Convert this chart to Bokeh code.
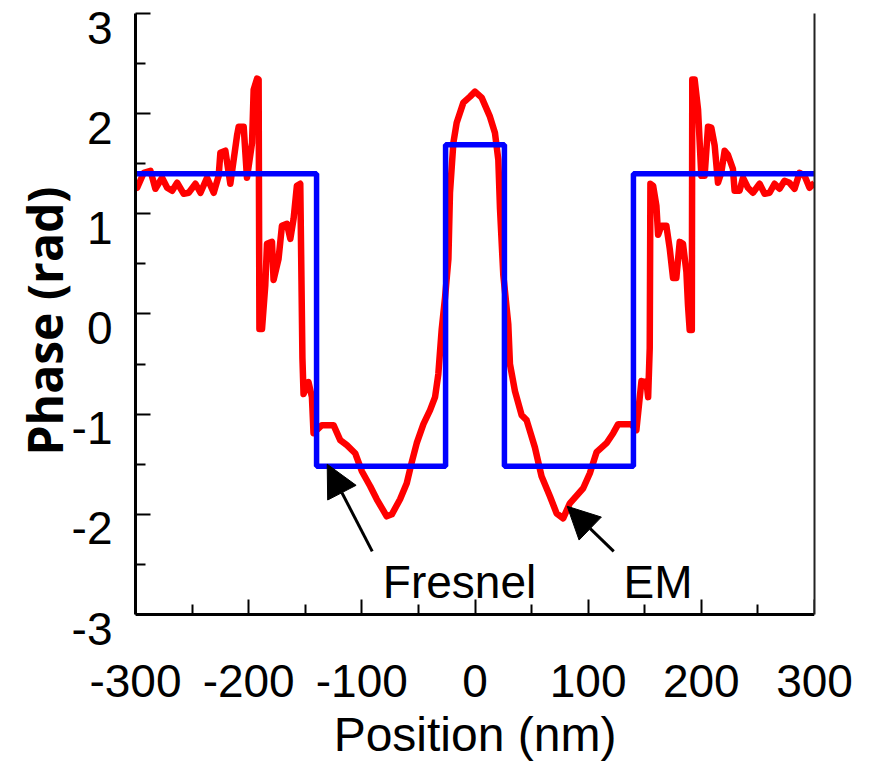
from bokeh.plotting import figure
from bokeh.models import (Range1d, LinearAxis, FixedTicker, Label, Arrow,
                          NormalHead, CustomLabelingPolicy)
from bokeh.embed import file_html
from bokeh.resources import INLINE

# ---- data ----
em_x = [-300, -298.5, -292.7, -286.8, -282.4, -276.5, -272, -267.6, -263.2, -257.4, -253,
        -247, -242.6, -236.8, -230.9, -226.5, -225, -220.6, -216.2, -210.3, -208.8, -204.4,
        -201.5, -197, -195.6, -192.6, -191.2, -190.5, -188.2, -185.3, -183.8, -179.4, -178,
        -173.6, -170.6, -166.2, -163.2, -160.3, -157.4, -154.4, -152.5, -151.5, -147.1,
        -144.1, -142.7, -135.3, -125, -119.1, -113.2, -105.9, -100, -92.6, -86.8, -78,
        -73.5, -66.2, -60.3, -55.9, -51.5, -45.6, -39.7, -35.3, -32.4, -29.4, -26.5, -23.5,
        -22.1, -19.1, -16.2, -10.3, -4.4, 0, 5.9, 13.2, 17.6, 20.6, 22.1, 25, 29.4, 30.9,
        35.3, 41.2, 45.6, 52.9, 58.8, 66.2, 72.1, 77.9, 83.8, 95.6, 101.5, 107.4, 116.2,
        122.1, 126.5, 138.2, 142.6, 145.6, 147.1, 151.5, 153, 154.4, 155, 157.4, 160.3,
        161.8, 164.7, 169.1, 172.1, 175, 177.9, 180.9, 183.8, 186.8, 188.2, 189.7, 191.6,
        192.0, 194.1, 197.1, 200, 202.9, 205.9, 208.8, 211.8, 214.7, 217.6, 220.6, 223.5,
        227.9, 229.4, 233.8, 236.8, 241.2, 245.6, 251.5, 255.9, 260.3, 264.7, 269.1, 273.5,
        277.9, 282.4, 286.8, 291.2, 295.6, 300]
em_y = [1.30, 1.26, 1.41, 1.43, 1.25, 1.36, 1.26, 1.23, 1.31, 1.20, 1.21,
        1.30, 1.21, 1.36, 1.21, 1.38, 1.61, 1.63, 1.30, 1.78, 1.87, 1.87,
        1.36, 1.71, 2.24, 2.35, 2.34, -0.15, -0.15, 0.29, 0.70, 0.72, 0.34,
        0.55, 0.88, 0.90, 0.75, 0.95, 1.28, 1.30, -0.44, -0.80, -0.68,
        -0.83, -1.19, -1.11, -1.11, -1.26, -1.31, -1.39, -1.57, -1.72, -1.85, -2.02,
        -2.00, -1.85, -1.69, -1.48, -1.29, -1.10, -0.96, -0.83, -0.60, -0.15, 0.16, 0.55,
        1.21, 1.71, 1.91, 2.11, 2.17, 2.22, 2.16, 1.97, 1.81, 1.54, 1.05, 0.39, -0.10, -0.50,
        -0.77, -1.01, -1.06, -1.33, -1.62, -1.82, -1.99, -2.04, -1.89, -1.74, -1.59, -1.38, -1.29,
        -1.19, -1.10, -1.10, -1.16, -0.83, -0.67, -0.68, -0.83, -0.34, 1.30, 1.28, 1.08,
        0.79, 0.88, 0.88, 0.65, 0.36, 0.36, 0.72, 0.70, 0.42, 0.09, -0.16, -0.16,
        2.34, 2.34, 2.04, 1.38, 1.38, 1.87, 1.86, 1.68, 1.31, 1.41, 1.63, 1.59,
        1.45, 1.23, 1.23, 1.36, 1.26, 1.21, 1.30, 1.20, 1.21, 1.30, 1.25, 1.33,
        1.31, 1.25, 1.41, 1.38, 1.26, 1.31]

fresnel_x = [-300, -140, -140, -26, -26, 26, 26, 140, 140, 300]
fresnel_y = [1.40, 1.40, -1.52, -1.52, 1.69, 1.69, -1.52, -1.52, 1.40, 1.40]

x_ticks = [-300, -200, -100, 0, 100, 200, 300]
x_minor = [-250, -150, -50, 50, 150, 250]
x_labels = ["-300", "-200", "-100", "0", "100", "200", "300"]
y_ticks = [-3, -2, -1, 0, 1, 2, 3]
y_minor = [-2.5, -1.5, -0.5, 0.5, 1.5, 2.5]
y_labels = ["-3", "-2", "-1", "0", "1", "2", "3"]

FONT = "Liberation Sans"
BOLD_FONT = "Open Sans"
OFF = 0.14   # y tick labels hang this far below their ticks in the reference

HIDE = "for (const i of indices) indices.unset(i); return indices"

p = figure(width=873, height=763, output_backend="svg", toolbar_location=None,
           x_range=Range1d(x_ticks[0], x_ticks[-1]),
           y_range=Range1d(y_ticks[0] - OFF, y_ticks[-1]),
           min_border_left=135, min_border_right=59, min_border_top=13,
           min_border_bottom=134)
p.outline_line_color = None
p.xgrid.visible = False
p.ygrid.visible = False
p.background_fill_color = "white"
p.border_fill_color = "white"


def ticks_only(ax, ticker):
    ax.ticker = ticker
    ax.axis_line_width = 3
    ax.axis_line_color = "black"
    ax.major_tick_in = 15
    ax.major_tick_out = 0
    ax.minor_tick_in = 10
    ax.minor_tick_out = 0
    ax.major_tick_line_width = 2
    ax.minor_tick_line_width = 2
    ax.major_tick_line_color = "black"
    ax.minor_tick_line_color = "black"
    ax.major_label_text_font_size = "0px"
    ax.major_label_policy = CustomLabelingPolicy(code=HIDE)
    ax.major_label_standoff = 0


def labels_only(ax, ticks, labels, standoff):
    ax.ticker = FixedTicker(ticks=ticks)
    ax.major_label_overrides = dict(zip(ticks, labels))
    ax.axis_line_color = None
    ax.major_tick_line_color = None
    ax.minor_tick_line_color = None
    ax.major_label_text_font = FONT
    ax.major_label_text_font_size = "46px"
    ax.major_label_text_color = "black"
    ax.major_label_standoff = standoff


# x axis line + ticks, sitting at y = -3
xa = p.xaxis[0]
xa.fixed_location = y_ticks[0]
ticks_only(xa, FixedTicker(ticks=x_ticks, minor_ticks=x_minor))

# x labels + title
xl = LinearAxis()
labels_only(xl, x_ticks, x_labels, 30)
xl.axis_label = "Position (nm)"
xl.axis_label_text_font = FONT
xl.axis_label_text_font_size = "48px"
xl.axis_label_text_font_style = "normal"
xl.axis_label_text_color = "black"
xl.axis_label_standoff = 8
p.add_layout(xl, "below")

# y axis line + ticks
ya = p.yaxis[0]
ya.bounds = (y_ticks[0], y_ticks[-1])
ticks_only(ya, FixedTicker(ticks=y_ticks, minor_ticks=y_minor))

# y labels + title
p.extra_y_ranges = {"lab": Range1d(y_ticks[0], y_ticks[-1] + OFF)}
la = LinearAxis(y_range_name="lab")
labels_only(la, y_ticks, y_labels, 17)
la.axis_label = "Phase (rad)"
la.axis_label_text_font = BOLD_FONT
la.axis_label_text_font_size = "48px"
la.axis_label_text_font_style = "bold"
la.axis_label_text_color = "black"
la.axis_label_standoff = -8
p.add_layout(la, "left")

# right frame line
ra = LinearAxis(bounds=(y_ticks[0], y_ticks[-1]))
ticks_only(ra, FixedTicker(ticks=[]))
ra.axis_line_color = "#222222"
ra.axis_line_width = 2
p.add_layout(ra, "right")

# curves
p.line(em_x, em_y, line_color="#FF0000", line_width=6.5, line_join="round")
p.line(fresnel_x, fresnel_y, line_color="#0000FF", line_width=5.5)

# annotations
p.add_layout(Arrow(end=NormalHead(size=32, fill_color="black", line_color="black"),
                   x_start=-90.8, y_start=-2.37, x_end=-130.6, y_end=-1.50,
                   line_width=3, line_color="black"))
p.add_layout(Arrow(end=NormalHead(size=32, fill_color="black", line_color="black"),
                   x_start=122.6, y_start=-2.37, x_end=81.5, y_end=-1.92,
                   line_width=3, line_color="black"))
p.add_layout(Label(x=-13.7, y=-2.68, text="Fresnel", text_font=FONT, text_font_size="46px",
                   text_align="center", text_baseline="alphabetic", text_color="black"))
p.add_layout(Label(x=161.7, y=-2.68, text="EM", text_font=FONT, text_font_size="46px",
                   text_align="center", text_baseline="alphabetic", text_color="black"))

open("out.html", "w").write(file_html(p, INLINE))
